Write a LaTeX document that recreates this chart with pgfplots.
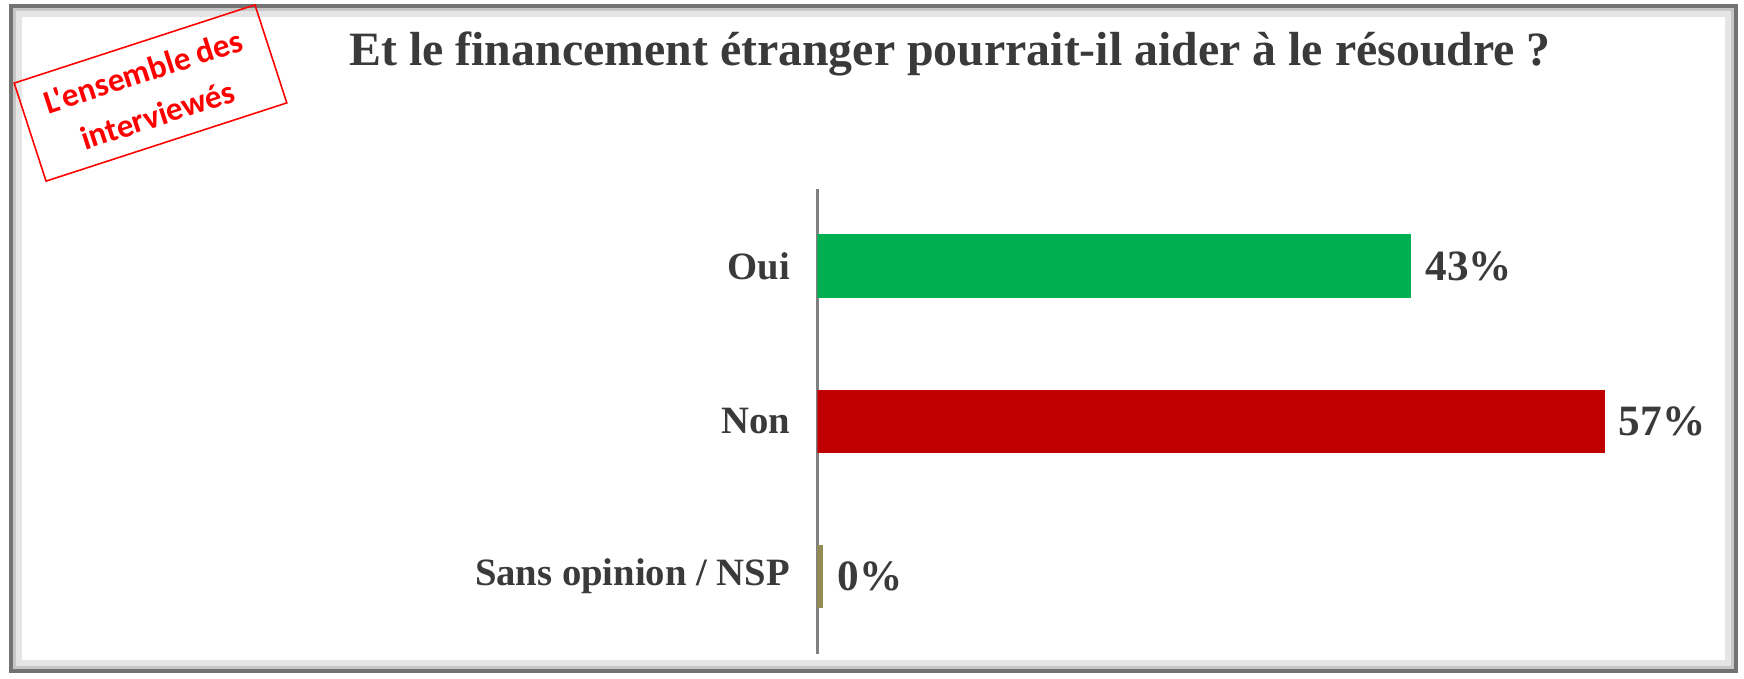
\documentclass[border=0pt]{standalone}
\usepackage{fontspec}
\setmainfont{Liberation Serif}
\newfontfamily\calibri{Carlito}[Ligatures=TeXOff]
\usepackage{pgfplots}
\pgfplotsset{compat=1.18}
\definecolor{txtgray}{HTML}{3A3A3A}
\definecolor{ouigreen}{HTML}{00B050}
\definecolor{nonred}{HTML}{C00000}
\definecolor{nspolive}{HTML}{948A54}

\begin{document}
\begin{tikzpicture}[x=0.01cm,y=0.01cm]
\path[use as bounding box] (0,0) rectangle (1744,678);
% frame with a soft inner shadow
\fill[white] (9,5) rectangle (1738,674);
\draw[black!10, line width=2.2pt] (18,14) rectangle (1729,665);
\draw[black!22, line width=1.4pt] (14,10) rectangle (1733,669);
\draw[black!55, line width=1pt] (11,7) rectangle (1736,672);

% red stamp
\node[draw=red, line width=0.45pt, rotate=18, minimum width=2.53cm,
      minimum height=1.03cm, align=center, text=red,
      font=\calibri\bfseries\fontsize{9.4}{13}\selectfont]
  at (150.5,585) {L'ensemble des\\interviewés};

% title
\node[anchor=base, font=\bfseries\fontsize{13.6}{16}\selectfont, text=txtgray]
  at (950,613) {Et le financement étranger pourrait-il aider à le résoudre ?};

\begin{axis}[
  at={(8.17cm,0.24cm)}, anchor=south west,
  scale only axis,
  width=8.97cm, height=4.65cm,
  xbar, bar shift=0pt, bar width=0.41,
  xmin=0, xmax=65, ymin=-0.5, ymax=2.5,
  hide x axis,
  axis y line*=left,
  y axis line style={black!50, line width=0.6pt},
  ytick={0,1,2},
  yticklabels={Sans opinion / NSP, Non, Oui},
  major tick length=0pt,
  yticklabel style={font=\bfseries\fontsize{11}{13}\selectfont, text=txtgray, xshift=-0.15cm},
  point meta=x,
  nodes near coords={\pgfmathprintnumber[fixed, precision=0]{\pgfplotspointmeta}\%},
  nodes near coords style={font=\bfseries\fontsize{12.3}{14}\selectfont, text=txtgray, anchor=west, xshift=0.02cm},
  /pgf/number format/assume math mode=true,
]
\addplot[fill=ouigreen, draw=none] coordinates {(43,2)};
\addplot[fill=nonred, draw=none] coordinates {(57,1)};
\addplot[fill=nspolive, draw=none] coordinates {(0.4,0)};
\end{axis}
\end{tikzpicture}
\end{document}
